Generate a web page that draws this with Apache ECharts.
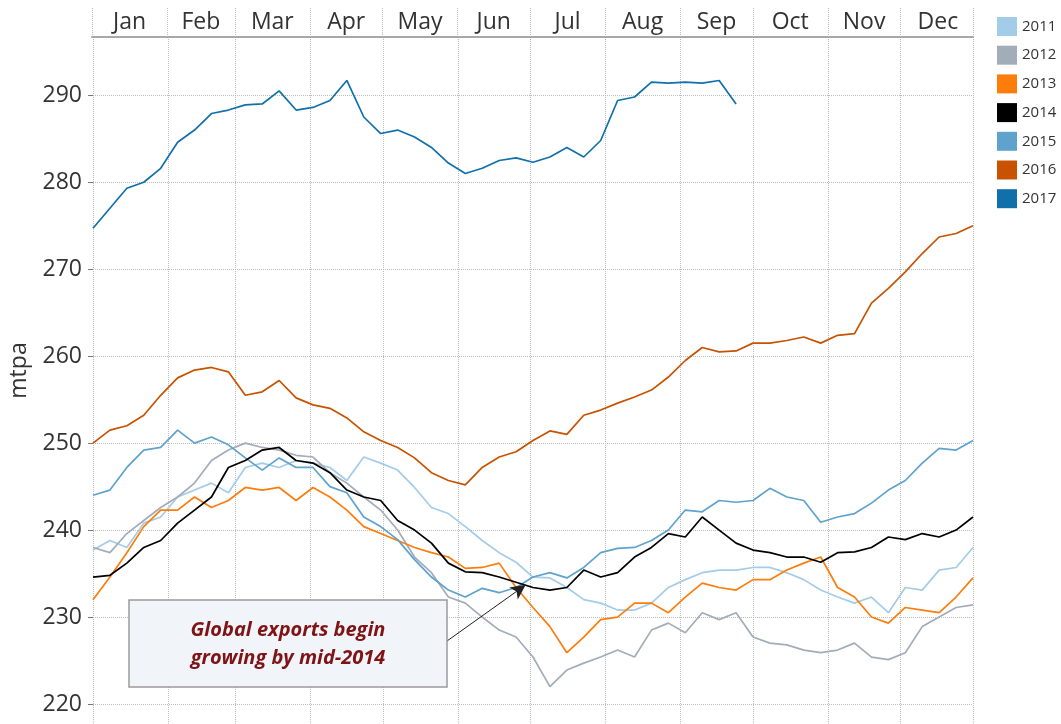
<!DOCTYPE html>
<html>
<head>
<meta charset="utf-8">
<script src="https://cdn.jsdelivr.net/npm/echarts@6/dist/echarts.min.js"></script>
<style>
html, body { margin: 0; padding: 0; background: #fff; }
#chart { width: 1061px; height: 724px; }
</style>
</head>
<body>
<div id="chart"></div>
<script>
// day of year, one reading per week
var days = [1,8,15,22,29,36,43,50,57,64,71,78,85,92,99,106,113,120,127,134,141,148,155,162,169,176,183,190,197,204,211,218,225,232,239,246,253,260,267,274,281,288,295,302,309,316,323,330,337,344,351,358,365];

var monthNames = ['Jan','Feb','Mar','Apr','May','Jun','Jul','Aug','Sep','Oct','Nov','Dec'];
var monthStarts = [1,32,60,91,121,152,182,213,244,274,305,335,365];
var monthMids = [16.5,46,75.5,106,136.5,167,197.5,228.5,259,289.5,320,350.5];
var yTicks = [220,230,240,250,260,270,280,290];

var years = ['2011','2012','2013','2014','2015','2016','2017'];
var colors = ['#a3cce9','#a3acb9','#fc7d0b','#000000','#5fa2ce','#c85200','#1170aa'];

var v2011 = [237.7,238.8,238,240.8,241.5,243.8,244.6,245.4,244.3,247.2,247.7,247.2,248,247.7,247.2,245.7,248.4,247.7,246.9,244.9,242.6,241.9,240.4,238.8,237.4,236.3,234.6,234.5,233.4,232,231.6,230.8,230.8,231.6,233.4,234.3,235.1,235.4,235.4,235.7,235.7,235.1,234.3,233.1,232.3,231.6,232.3,230.5,233.4,233.1,235.4,235.7,238];
var v2012 = [238,237.4,239.6,241.1,242.6,243.8,245.4,248,249.2,250,249.5,249.2,248.6,248.4,246.6,245.4,243.8,242.3,240,236.9,235.1,232.3,231.6,230,228.5,227.7,225.4,222,223.9,224.7,225.4,226.2,225.4,228.5,229.3,228.2,230.5,229.7,230.5,227.7,227,226.8,226.2,225.9,226.2,227,225.4,225.1,225.9,228.9,230,231.1,231.4];
var v2013 = [232,234.6,237.4,240.4,242.3,242.3,243.8,242.6,243.4,244.9,244.6,244.9,243.4,244.9,243.8,242.3,240.4,239.6,238.8,238,237.4,236.9,235.6,235.7,236.2,233.4,231.1,228.9,225.9,227.7,229.7,230,231.6,231.6,230.5,232.3,233.9,233.4,233.1,234.3,234.3,235.4,236.2,236.9,233.4,232.3,230,229.3,231.1,230.8,230.5,232.3,234.5];
var v2014 = [234.6,234.8,236.2,238,238.8,240.8,242.3,243.8,247.2,248,249.2,249.5,248,247.7,246.6,244.6,243.8,243.4,241.1,240,238.5,236.2,235.2,235.1,234.6,234,233.4,233.1,233.4,235.4,234.6,235.1,236.9,238,239.6,239.2,241.5,240,238.5,237.7,237.4,236.9,236.9,236.3,237.4,237.5,238,239.2,238.9,239.6,239.2,240,241.5];
var v2015 = [244,244.6,247.2,249.2,249.5,251.5,250,250.7,249.8,248.3,246.9,248.3,247.2,247.2,245,244.3,241.5,240.4,238.9,236.6,234.6,233.1,232.3,233.3,232.8,233.4,234.6,235.1,234.5,235.7,237.4,237.9,238,238.8,240,242.3,242.1,243.4,243.2,243.4,244.8,243.8,243.4,240.9,241.5,241.9,243.1,244.6,245.7,247.7,249.4,249.2,250.3];
var v2016 = [250,251.5,252,253.2,255.5,257.5,258.4,258.7,258.2,255.5,255.9,257.2,255.2,254.4,254,252.9,251.3,250.3,249.5,248.3,246.6,245.7,245.2,247.2,248.4,249,250.3,251.4,251,253.2,253.8,254.6,255.3,256.1,257.6,259.5,261,260.5,260.6,261.5,261.5,261.8,262.2,261.5,262.4,262.6,266.1,267.8,269.7,271.8,273.7,274.1,275];
var v2017 = [274.7,277,279.3,280,281.6,284.6,286,287.9,288.3,288.9,289,290.5,288.3,288.6,289.4,291.7,287.5,285.6,286,285.2,284,282.2,281,281.6,282.5,282.8,282.3,282.9,284,282.9,284.8,289.4,289.8,291.5,291.4,291.5,291.4,291.7,289];

var values = [v2011, v2012, v2013, v2014, v2015, v2016, v2017];

function pairs(vals) {
	var out = [];
	for (var i = 0; i < vals.length; i++) {
		if (vals[i] != null) out.push([days[i], vals[i]]);
	}
	return out;
}

var font = 'Open Sans';
var gridDots = { color: '#bdbdbd', type: 'dotted', width: 1 };

// 2014 is drawn last so it sits on top
var drawOrder = [0, 1, 2, 4, 5, 6, 3];
var series = [];
drawOrder.forEach(function (k) {
	var s = {
		name: years[k],
		type: 'line',
		xAxisIndex: 1,
		yAxisIndex: 1,
		data: pairs(values[k]),
		color: colors[k],
		showSymbol: false,
		symbol: 'none',
		lineStyle: { width: 1.7, color: colors[k] },
		emphasis: { disabled: true }
	};
	if (years[k] === '2014') {
		s.markLine = {
			silent: true,
			symbol: ['none', 'arrow'],
			symbolSize: [11, 15],
			label: { show: false },
			lineStyle: { color: '#222', width: 1, type: 'solid' },
			data: [[{ x: 447, y: 641 }, { coord: [180, 233.7] }]]
		};
	}
	series.push(s);
});

var chart = echarts.init(document.getElementById('chart'));
chart.setOption({
	animation: false,
	backgroundColor: '#fff',
	legend: {
		orient: 'vertical',
		left: 992,
		top: 12,
		icon: 'rect',
		itemWidth: 20,
		itemHeight: 19,
		itemGap: 9.7,
		selectedMode: false,
		data: years,
		textStyle: { fontFamily: font, fontSize: 15, color: '#333' }
	},
	grid: [
		{ left: 92, right: 88, top: 8, height: 29 },
		{ left: 92, right: 88, top: 37, bottom: 0 }
	],
	xAxis: [
		{
			gridIndex: 0, type: 'value', min: 1, max: 365, position: 'bottom',
			axisLine: { show: true, lineStyle: { color: '#a8a8a8', width: 2 } },
			axisTick: { show: false, customValues: monthStarts },
			splitLine: { show: true, lineStyle: gridDots },
			axisLabel: {
				inside: true, margin: 3, customValues: monthMids,
				fontFamily: font, fontSize: 23, color: '#333',
				formatter: function (v) { return monthNames[monthMids.indexOf(v)]; }
			}
		},
		{
			gridIndex: 1, type: 'value', min: 1, max: 365,
			axisLine: { show: false },
			axisTick: { show: false, customValues: monthStarts },
			axisLabel: { show: false },
			splitLine: { show: true, lineStyle: gridDots }
		}
	],
	yAxis: [
		{ gridIndex: 0, type: 'value', show: false, min: 0, max: 1, splitLine: { show: false } },
		{
			gridIndex: 1, type: 'value', min: 217.7, max: 296.7,
			name: 'mtpa', nameLocation: 'middle', nameGap: 62,
			nameTextStyle: { fontFamily: font, fontSize: 23, color: '#333', padding: [0, 0, 0, 20] },
			axisLine: { show: false },
			axisTick: { show: true, length: 5, customValues: yTicks, lineStyle: { color: '#777' } },
			axisLabel: { customValues: yTicks, margin: 11, fontFamily: font, fontSize: 23, color: '#333' },
			splitLine: { show: true, lineStyle: gridDots }
		}
	],
	series: series,
	graphic: [
		{
			type: 'rect',
			shape: { x: 129, y: 600, width: 318, height: 87 },
			style: { fill: '#f1f5f9', stroke: '#9a9a9a', lineWidth: 1.5 },
			z: 100
		},
		{
			type: 'text',
			x: 288, y: 644,
			style: {
				text: 'Global exports begin\ngrowing by mid-2014',
				fontFamily: font, fontSize: 20, fontStyle: 'italic', fontWeight: 'bold',
				fill: '#7e1416', align: 'center', verticalAlign: 'middle', lineHeight: 28
			},
			z: 101
		}
	]
});
</script>
</body>
</html>
